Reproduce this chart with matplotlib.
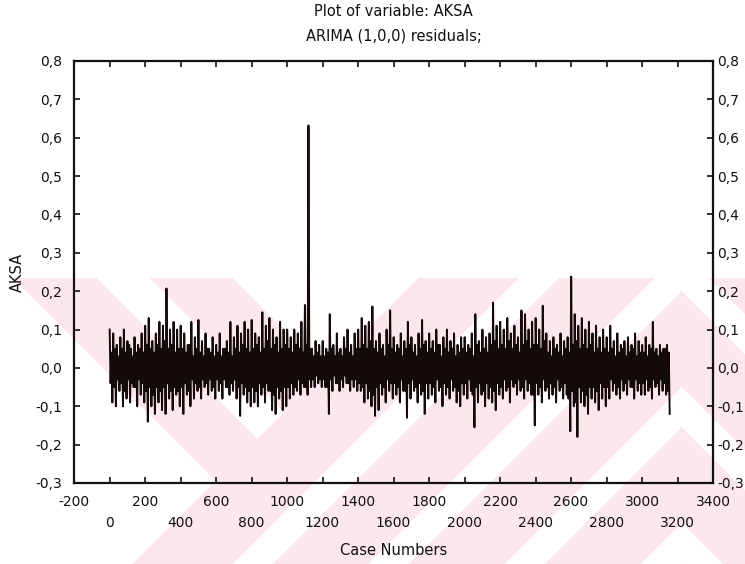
import numpy as np
import matplotlib
matplotlib.use("Agg")
import matplotlib.pyplot as plt
from matplotlib.ticker import FixedLocator, FuncFormatter

# Residual swings for consecutive 20-case blocks.
# Outer swings: the tallest up / down excursion inside each block.
block_highs = [
    0.10, 0.09, 0.06, 0.08, 0.10, 0.07, 0.05, 0.08, 0.06, 0.09,
    0.11, 0.13, 0.07, 0.09, 0.12, 0.11, 0.207, 0.10, 0.12, 0.10,
    0.11, 0.09, 0.06, 0.12, 0.08, 0.125, 0.07, 0.09, 0.05, 0.08,
    0.06, 0.09, 0.05, 0.07, 0.12, 0.08, 0.11, 0.09, 0.12, 0.10,
    0.125, 0.09, 0.08, 0.145, 0.11, 0.13, 0.10, 0.08, 0.12, 0.10,
    0.10, 0.08, 0.10, 0.09, 0.12, 0.164, 0.632, 0.05, 0.07, 0.06,
    0.07, 0.05, 0.14, 0.06, 0.09, 0.05, 0.08, 0.10, 0.06, 0.09,
    0.10, 0.13, 0.11, 0.12, 0.16, 0.07, 0.09, 0.06, 0.10, 0.15,
    0.08, 0.06, 0.09, 0.07, 0.12, 0.08, 0.06, 0.09, 0.125, 0.07,
    0.09, 0.07, 0.10, 0.06, 0.08, 0.10, 0.07, 0.09, 0.06, 0.08,
    0.08, 0.06, 0.09, 0.14, 0.07, 0.10, 0.08, 0.09, 0.17, 0.11,
    0.12, 0.10, 0.13, 0.09, 0.11, 0.08, 0.15, 0.14, 0.10, 0.12,
    0.13, 0.10, 0.162, 0.09, 0.07, 0.08, 0.06, 0.09, 0.07, 0.08,
    0.238, 0.14, 0.11, 0.13, 0.10, 0.12, 0.09, 0.11, 0.08, 0.10,
    0.08, 0.11, 0.07, 0.09, 0.06, 0.07, 0.08, 0.06, 0.09, 0.07,
    0.06, 0.08, 0.06, 0.12, 0.05, 0.06, 0.05, 0.06,
]
block_lows = [
    -0.09, -0.10, -0.06, -0.10, -0.08, -0.09, -0.05, -0.10, -0.07, -0.09,
    -0.14, -0.10, -0.12, -0.09, -0.11, -0.12, -0.08, -0.11, -0.07, -0.10,
    -0.12, -0.07, -0.10, -0.08, -0.06, -0.08, -0.05, -0.07, -0.06, -0.08,
    -0.06, -0.08, -0.05, -0.07, -0.06, -0.08, -0.125, -0.07, -0.09, -0.10,
    -0.09, -0.10, -0.07, -0.09, -0.06, -0.11, -0.12, -0.08, -0.11, -0.10,
    -0.08, -0.07, -0.06, -0.07, -0.05, -0.07, -0.05, -0.05, -0.04, -0.05,
    -0.05, -0.12, -0.06, -0.04, -0.06, -0.05, -0.04, -0.06, -0.05, -0.06,
    -0.06, -0.09, -0.08, -0.10, -0.125, -0.11, -0.07, -0.09, -0.06, -0.08,
    -0.07, -0.09, -0.06, -0.13, -0.08, -0.06, -0.09, -0.07, -0.12, -0.08,
    -0.07, -0.09, -0.06, -0.10, -0.07, -0.08, -0.06, -0.09, -0.10, -0.07,
    -0.08, -0.06, -0.155, -0.09, -0.07, -0.10, -0.08, -0.09, -0.11, -0.07,
    -0.08, -0.06, -0.09, -0.05, -0.07, -0.06, -0.08, -0.06, -0.07, -0.15,
    -0.07, -0.09, -0.06, -0.08, -0.07, -0.09, -0.06, -0.08, -0.07, -0.165,
    -0.10, -0.18, -0.09, -0.10, -0.12, -0.08, -0.09, -0.11, -0.08, -0.10,
    -0.08, -0.06, -0.07, -0.08, -0.06, -0.07, -0.05, -0.08, -0.06, -0.07,
    -0.07, -0.06, -0.08, -0.05, -0.07, -0.06, -0.07, -0.12,
]
# Inner swings: the smaller up / down excursions that fill the dense core.
inner_highs = [
    0.04, 0.05, 0.03, 0.05, 0.04, 0.06, 0.03, 0.04, 0.05, 0.04,
    0.06, 0.05, 0.04, 0.06, 0.05, 0.07, 0.05, 0.06, 0.04, 0.05,
    0.05, 0.04, 0.06, 0.03, 0.05, 0.04, 0.03, 0.05, 0.04, 0.03,
    0.04, 0.03, 0.05, 0.04, 0.03, 0.05, 0.04, 0.06, 0.05, 0.04,
    0.05, 0.06, 0.04, 0.05, 0.07, 0.05, 0.06, 0.04, 0.05, 0.06,
    0.05, 0.04, 0.06, 0.05, 0.04, 0.06, 0.05, 0.03, 0.04, 0.03,
    0.03, 0.04, 0.05, 0.03, 0.04, 0.03, 0.05, 0.04, 0.03, 0.05,
    0.05, 0.06, 0.05, 0.07, 0.05, 0.04, 0.05, 0.03, 0.06, 0.05,
    0.04, 0.05, 0.03, 0.05, 0.06, 0.04, 0.03, 0.05, 0.06, 0.04,
    0.05, 0.04, 0.06, 0.03, 0.05, 0.04, 0.05, 0.03, 0.04, 0.05,
    0.04, 0.05, 0.03, 0.06, 0.04, 0.05, 0.04, 0.06, 0.07, 0.05,
    0.06, 0.05, 0.07, 0.05, 0.06, 0.04, 0.06, 0.07, 0.05, 0.06,
    0.06, 0.05, 0.07, 0.04, 0.03, 0.05, 0.04, 0.03, 0.05, 0.04,
    0.06, 0.07, 0.05, 0.06, 0.05, 0.06, 0.04, 0.05, 0.04, 0.05,
    0.04, 0.05, 0.03, 0.04, 0.05, 0.03, 0.04, 0.05, 0.03, 0.04,
    0.04, 0.03, 0.05, 0.04, 0.03, 0.04, 0.05, 0.04,
]
inner_lows = [
    -0.04, -0.05, -0.03, -0.04, -0.06, -0.03, -0.04, -0.05, -0.03, -0.04,
    -0.06, -0.05, -0.07, -0.05, -0.06, -0.05, -0.04, -0.06, -0.05, -0.06,
    -0.05, -0.04, -0.06, -0.03, -0.04, -0.05, -0.03, -0.04, -0.03, -0.05,
    -0.03, -0.04, -0.03, -0.05, -0.04, -0.03, -0.05, -0.04, -0.05, -0.06,
    -0.05, -0.06, -0.04, -0.05, -0.04, -0.06, -0.07, -0.05, -0.06, -0.05,
    -0.05, -0.04, -0.05, -0.03, -0.04, -0.05, -0.03, -0.03, -0.02, -0.03,
    -0.03, -0.05, -0.03, -0.02, -0.04, -0.03, -0.02, -0.04, -0.03, -0.03,
    -0.04, -0.05, -0.04, -0.06, -0.07, -0.05, -0.04, -0.05, -0.03, -0.04,
    -0.04, -0.05, -0.03, -0.06, -0.04, -0.03, -0.05, -0.04, -0.06, -0.04,
    -0.04, -0.05, -0.03, -0.05, -0.04, -0.05, -0.03, -0.05, -0.06, -0.04,
    -0.04, -0.03, -0.07, -0.05, -0.04, -0.06, -0.04, -0.05, -0.06, -0.04,
    -0.05, -0.03, -0.05, -0.03, -0.04, -0.03, -0.05, -0.03, -0.04, -0.07,
    -0.04, -0.05, -0.03, -0.05, -0.04, -0.05, -0.03, -0.05, -0.04, -0.08,
    -0.06, -0.09, -0.05, -0.06, -0.07, -0.05, -0.05, -0.06, -0.04, -0.05,
    -0.05, -0.03, -0.04, -0.05, -0.03, -0.04, -0.03, -0.05, -0.03, -0.04,
    -0.04, -0.03, -0.05, -0.03, -0.04, -0.03, -0.04, -0.06,
]
first_case = 1
case_step = 5

y_ticks = [-0.3, -0.2, -0.1, 0.0, 0.1, 0.2, 0.3, 0.4, 0.5, 0.6, 0.7, 0.8]
x_ticks_upper_row = [-200, 200, 600, 1000, 1400, 1800, 2200, 2600, 3000, 3400]
x_ticks_lower_row = [0, 400, 800, 1200, 1600, 2000, 2400, 2800, 3200]

title_lines = ["Plot of variable: AKSA", "ARIMA (1,0,0) residuals;"]
x_label = "Case Numbers"
y_label = "AKSA"

# each block contributes: outer high, inner low, inner high, outer low
residuals = np.column_stack([block_highs, inner_lows, inner_highs, block_lows]).ravel()
cases = first_case + case_step * np.arange(len(residuals))

W, H = 745, 564
plt.rcParams["font.family"] = ["DejaVu Sans"]
fig = plt.figure(figsize=(W / 100, H / 100), dpi=100)
fig.patch.set_facecolor("white")

# ---- faint chevron watermark behind the lower half of the page ----
yy, xx = np.mgrid[0:H, 0:W].astype(float) + 0.5
d = xx - yy          # "\" bands
s = xx + yy          # "/" bands
left_zone = s < 697
mid_zone = (~left_zone) & (xx < 682)
right_zone = xx >= 682
white = np.zeros((H, W), dtype=bool)
white |= left_zone & ((d < -265) | ((d >= -181) & (d < -128)) | (d >= -45))
for c in (797, 933, 1069, 1205):
    white |= mid_zone & (s >= c) & (s < c + 40)
for c in (119, 255, 391):
    white |= right_zone & (d >= c) & (d < c + 40)
white |= yy < 278
mark = np.ones((H, W, 3))
mark[~white] = np.array([252, 232, 236]) / 255.0
fig.figimage(mark, xo=0, yo=0, origin="upper", zorder=-5)

# ---- plot area ----
left, right, top, bottom = 74, 713, 61, 483
ax = fig.add_axes([left / W, 1 - bottom / H, (right - left) / W, (bottom - top) / H])
ax.set_facecolor("none")

ax.plot(cases, residuals, color="#140a0a", lw=1.4, zorder=3)

ax.set_xlim(-200, 3400)
ax.set_ylim(-0.3, 0.8)

comma = FuncFormatter(lambda v, p: f"{v:.1f}".replace(".", ",").replace("-0,0", "0,0"))
ax.yaxis.set_major_locator(FixedLocator(y_ticks))
ax.yaxis.set_major_formatter(comma)

ax.xaxis.set_major_locator(FixedLocator(x_ticks_upper_row))
ax.xaxis.set_minor_locator(FixedLocator(x_ticks_lower_row))
intfmt = FuncFormatter(lambda v, p: f"{int(round(v))}")
ax.xaxis.set_major_formatter(intfmt)
ax.xaxis.set_minor_formatter(intfmt)

for sp in ax.spines.values():
    sp.set_linewidth(1.6)
    sp.set_color("#111111")

ax.tick_params(axis="x", which="both", direction="in", top=True, bottom=True,
               length=4, width=1.2, labelsize=10, colors="#111111")
ax.tick_params(axis="x", which="major", pad=9)
ax.tick_params(axis="x", which="minor", pad=23.5)
ax.tick_params(axis="y", which="major", direction="in", left=True, right=False,
               length=4, width=1.2, labelsize=10, pad=8.5, colors="#111111")

# right-hand value scale
axr = ax.twinx()
axr.set_ylim(ax.get_ylim())
axr.yaxis.set_major_locator(FixedLocator(y_ticks))
axr.yaxis.set_major_formatter(comma)
axr.tick_params(axis="y", direction="in", length=4, width=1.2, labelsize=10,
                pad=3, colors="#111111")
for sp in axr.spines.values():
    sp.set_visible(False)

ax.set_xlabel(x_label, fontsize=10.5, color="#111111")
ax.xaxis.set_label_coords(0.5, -0.143)
ax.set_ylabel(y_label, fontsize=10.5, color="#111111")
ax.yaxis.set_label_coords(-0.088, 0.5)
ax.yaxis.label.set_va("center")

cx = ((left + right) / 2) / W
fig.text(cx, 1 - 12 / H, title_lines[0], ha="center", va="center", fontsize=10.5, color="#111111")
fig.text(cx, 1 - 36 / H, title_lines[1], ha="center", va="center", fontsize=10.5, color="#111111")

fig.savefig("out.png", dpi=100)
